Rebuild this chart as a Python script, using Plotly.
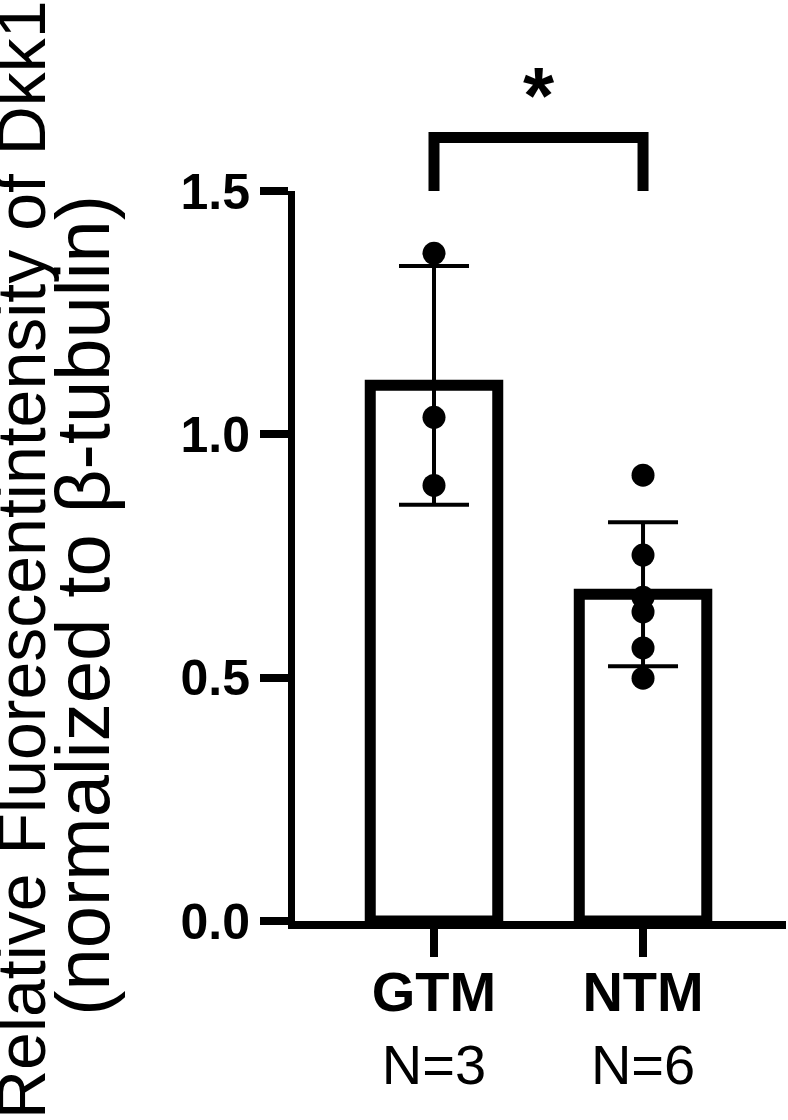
import numpy as np
import plotly.graph_objects as go

# ---- data ----
categories = ["GTM", "NTM"]
n_labels = ["N=3", "N=6"]
gtm_points = [1.372, 1.035, 0.895]
ntm_points = [0.916, 0.752, 0.665, 0.635, 0.561, 0.499]
y_ticks = [0.0, 0.5, 1.0, 1.5]
sig_label = "*"
bracket_bottom = 1.50
bracket_top = 1.61
y_title_1 = "Relative Fluorescentintensity of Dkk1"
y_title_2 = "(normalized to β-tubulin)"

groups = [gtm_points, ntm_points]
means = [float(np.mean(g)) for g in groups]
sds = [float(np.std(g, ddof=1)) for g in groups]
xpos = list(range(len(categories)))

YMAX = 1.5
FONT = "Liberation Sans, Arial, sans-serif"

fig = go.Figure()
fig.add_trace(go.Bar(
    x=xpos, y=means, width=0.61,
    marker=dict(color="white", line=dict(color="black", width=11)),
    error_y=dict(type="data", array=sds, visible=True, color="black",
                 thickness=4, width=35),
    showlegend=False, hoverinfo="skip",
))
for i, g in enumerate(groups):
    fig.add_trace(go.Scatter(
        x=[xpos[i]] * len(g), y=g, mode="markers",
        marker=dict(color="black", size=23, line=dict(width=0)),
        showlegend=False, cliponaxis=False,
    ))

# significance bracket
fig.add_shape(
    type="path", xref="x", yref="paper",
    path=f"M {xpos[0]},{bracket_bottom / YMAX} L {xpos[0]},{bracket_top / YMAX} "
         f"L {xpos[1]},{bracket_top / YMAX} L {xpos[1]},{bracket_bottom / YMAX}",
    line=dict(color="black", width=11),
)
fig.add_annotation(
    x=(xpos[0] + xpos[1]) / 2, xref="x", y=1.131, yref="paper",
    text=f"<b>{sig_label}</b>", showarrow=False,
    font=dict(family=FONT, size=80, color="black"), yanchor="middle",
)

# y-axis title as two rotated lines
fig.add_annotation(
    x=-0.558, xref="paper", y=0.4945, yref="paper", text=y_title_1,
    textangle=-90, showarrow=False, xanchor="center", yanchor="middle",
    font=dict(family=FONT, size=68, color="black"),
)
fig.add_annotation(
    x=-0.432, xref="paper", y=0.433, yref="paper", text=y_title_2,
    textangle=-90, showarrow=False, xanchor="center", yanchor="middle",
    font=dict(family=FONT, size=76, color="black"),
)

fig.update_layout(
    width=788, height=1120,
    margin=dict(l=295, r=2, t=191, b=199, autoexpand=False),
    plot_bgcolor="white", paper_bgcolor="white",
    font=dict(family=FONT, color="black"),
    xaxis=dict(
        range=[-0.665, 1.684], tickvals=xpos,
        ticktext=[f"<b>{c}</b><br>{n}" for c, n in zip(categories, n_labels)],
        showline=True, linecolor="black", linewidth=8,
        ticks="outside", ticklen=28, tickwidth=8, tickcolor="black",
        showgrid=False, zeroline=False, ticklabelstandoff=-13,
        tickfont=dict(family=FONT, size=56, color="black"),
    ),
    yaxis=dict(
        range=[0, YMAX], tickvals=y_ticks, tickformat=".1f",
        showline=True, linecolor="black", linewidth=7,
        ticks="outside", ticklen=28, tickwidth=8, tickcolor="black",
        showgrid=False, zeroline=False,
        tickfont=dict(family=FONT, size=50, color="black", weight="bold"),
    ),
)

fig.write_html(
    "out.html",
    config={"displayModeBar": False},
    post_script="document.body.style.margin='0';document.body.style.overflow='hidden';",
)
